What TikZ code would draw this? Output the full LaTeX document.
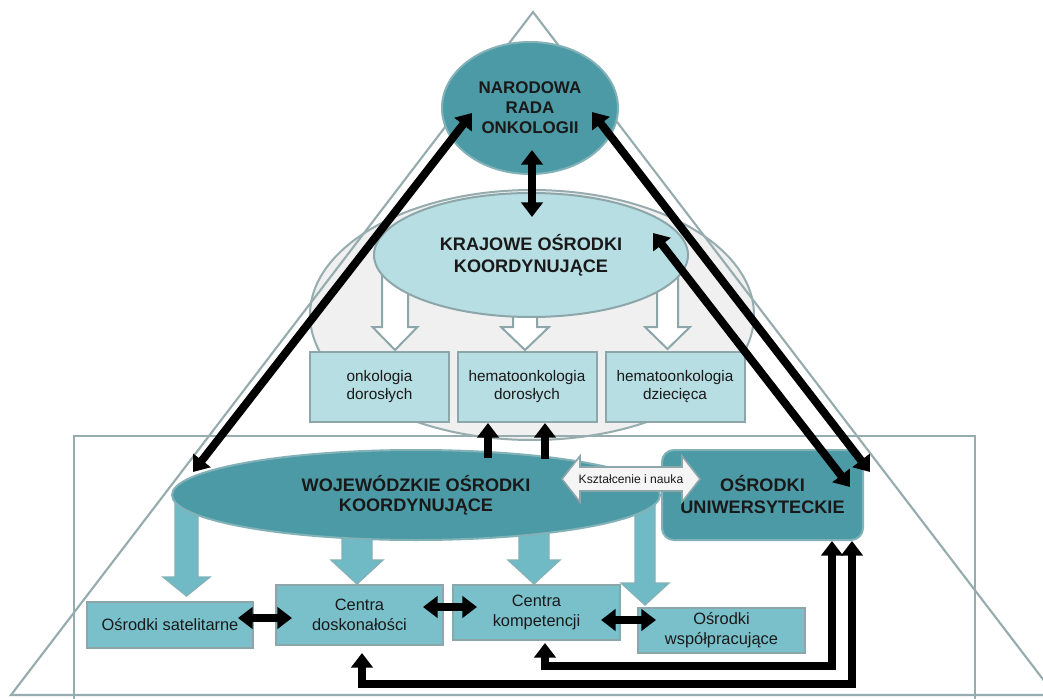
\documentclass[tikz,border=0pt]{standalone}
\usepackage{fontspec}
\setmainfont{Liberation Sans}
\usetikzlibrary{arrows.meta,shapes.geometric,calc}

\definecolor{tealdark}{RGB}{75,154,166}
\definecolor{tealedge}{RGB}{130,178,184}
\definecolor{tealmid}{RGB}{122,192,202}
\definecolor{tealarrow}{RGB}{112,186,197}
\definecolor{paleblue}{RGB}{183,222,227}
\definecolor{edgegray}{RGB}{140,166,170}
\definecolor{framegray}{RGB}{150,172,174}
\definecolor{cloudfill}{RGB}{240,240,240}
\definecolor{inkdark}{RGB}{25,25,25}

% block arrow pointing down: style, centre x, shaft top, head top, tip, half shaft, half head
\newcommand\fatdown[7]{%
  \draw[#1] (#2-#6,#3) -- (#2+#6,#3) -- (#2+#6,#4) -- (#2+#7,#4) -- (#2,#5)
    -- (#2-#7,#4) -- (#2-#6,#4) -- cycle;}

\begin{document}
\begin{tikzpicture}[x=0.75pt,y=-0.75pt,
  pale/.style={draw=edgegray, line width=1.5pt, fill=paleblue, align=center,
    inner sep=2pt, text=inkdark, minimum width=104.25pt, minimum height=52.5pt,
    font=\fontsize{11.5}{13.5}\selectfont},
  tealbox/.style={draw=edgegray, line width=1.5pt, fill=tealmid, align=center,
    inner sep=2pt, text=inkdark, font=\fontsize{12.3}{15}\selectfont},
  hollow/.style={draw=edgegray, line width=1.5pt, fill=white},
  tealdown/.style={draw=tealedge, line width=1pt, fill=tealarrow},
  heavy/.style={line width=6pt, line join=miter, draw=black},
  oneway/.style={heavy, -{Triangle[width=16pt,length=11pt]}},
  twoway/.style={heavy, {Triangle[width=16pt,length=11pt]}-{Triangle[width=16pt,length=11pt]}},
  headline/.style={font=\fontsize{13.6}{16.3}\selectfont\bfseries, text=inkdark, align=center}
]
\useasboundingbox (0,0) rectangle (1043,699);
\clip (0,0) rectangle (1043,699);
\fill[white] (0,0) rectangle (1043,699);

% national level background
\filldraw[fill=cloudfill, draw=framegray, line width=1.5pt] (532,315) ellipse [x radius=222, y radius=125];

% pyramid and regional frame
\draw[framegray, line width=1.6pt, line join=miter] (533,12) -- (11,695) -- (1055,695) -- cycle;
\draw[framegray, line width=1.5pt] (74,436) rectangle (975,712);

% hollow arrows from the national coordinating centres
\fatdown{hollow}{395}{275}{327}{350}{13}{22.5}
\fatdown{hollow}{525}{300}{327}{350}{12}{24}
\fatdown{hollow}{667.5}{275}{327}{349}{10.5}{22.5}

\node[ellipse, draw=edgegray, line width=1.5pt, fill=paleblue, inner sep=0pt,
  minimum width=235.5pt, minimum height=93pt, headline] (kraj) at (531,255)
  {KRAJOWE OŚRODKI\\KOORDYNUJĄCE};

\node[ellipse, draw=tealedge, line width=1.5pt, fill=tealdark, inner sep=0pt,
  minimum width=132pt, minimum height=99pt, align=center, text=inkdark,
  font=\fontsize{12.7}{15}\selectfont\bfseries] (nro) at (530,108)
  {NARODOWA\\RADA\\ONKOLOGII};

\node[pale] (onk)  at (379.5,387) {onkologia\\dorosłych};
\node[pale] (hemd) at (527,387)   {hematoonkologia\\dorosłych};
\node[pale] (hemc) at (675,387)   {hematoonkologia\\dziecięca};

% teal arrows from the voivodeship centres
\fatdown{tealdown}{186.5}{500}{577}{596}{11.5}{23.5}
\fatdown{tealdown}{357}{530}{560}{584}{15}{26}
\fatdown{tealdown}{534}{530}{560}{584}{15}{26}
\fatdown{tealdown}{645}{490}{583}{605}{10}{24}

\node[ellipse, draw=tealedge, line width=1.5pt, fill=tealdark, inner sep=0pt,
  minimum width=366pt, minimum height=67.5pt, headline,
  font=\fontsize{13.6}{15}\selectfont\bfseries] (woj) at (416,495)
  {WOJEWÓDZKIE OŚRODKI\\KOORDYNUJĄCE};

\node[rectangle, rounded corners=9pt, draw=tealedge, line width=1.5pt, fill=tealdark,
  minimum width=150.75pt, minimum height=67.5pt, headline,
  font=\fontsize{13.6}{16.5}\selectfont\bfseries] (uni) at (762.5,495)
  {OŚRODKI\\UNIWERSYTECKIE};

\node[tealbox, minimum width=124.5pt,  minimum height=34.5pt]  (sat)  at (170,625)    {Ośrodki satelitarne};
\node[tealbox, minimum width=125.25pt, minimum height=45pt]    (dosk) at (359.5,615)  {Centra\\doskonałości};
\node[tealbox, minimum width=125.25pt, minimum height=41.25pt] (komp) at (536.5,612.5) {Centra\\kompetencji};
\node[tealbox, minimum width=125.25pt, minimum height=33.75pt] (wsp)  at (721.5,630.5) {Ośrodki\\współpracujące};

% education and research link
\draw[fill=gray!8, draw=edgegray, line width=1.2pt] (562,479) -- (580,456) -- (580,467)
  -- (682,467) -- (682,456) -- (700,479) -- (682,502) -- (682,491) -- (580,491)
  -- (580,502) -- cycle;
\node[font=\fontsize{9.1}{11}\selectfont, text=inkdark] (edu) at (631,479) {Kształcenie i nauka};

% black relations
\draw[twoway] ($(nro.center)+(-58,5)$) -- ($(woj.center)+(-223,-23)$);
\draw[twoway] ($(nro.center)+(62,4)$) -- ($(uni.center)+(107.5,-23)$);
\draw[twoway] ($(kraj.center)+(122,-22)$) -- ($(uni.center)+(87.5,-8)$);
\draw[twoway] ($(nro.center)+(2,42)$) -- ($(kraj.center)+(1,-38)$);

\draw[oneway] ($(woj.center)+(72,-37)$) -- ($(hemd.south)+(-39,0)$);
\draw[oneway] ($(woj.center)+(129,-36)$) -- ($(hemd.south)+(18,0)$);

\draw[twoway, line width=5.5pt] ($(sat.east)+(-16,-7)$) -- ($(dosk.west)+(17,3)$);
\draw[twoway, line width=5.5pt] ($(dosk.east)+(-21,-8)$) -- ($(komp.west)+(25,-5.5)$);
\draw[twoway, line width=5.5pt] ($(komp.east)+(-20,7.5)$) -- ($(wsp.west)+(19,-10.5)$);

\draw[twoway] ($(dosk.south)+(2.5,7)$) -- ++(0,31) -| ($(uni.south)+(89.5,0)$);
\draw[twoway] ($(komp.south)+(8.5,2)$) -- ++(0,23) -| ($(uni.south)+(69.5,0)$);
\end{tikzpicture}
\end{document}
